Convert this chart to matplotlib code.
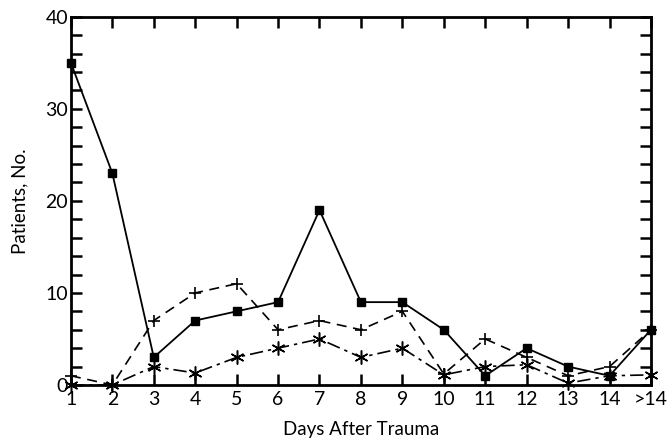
import matplotlib.pyplot as plt
from matplotlib.ticker import MultipleLocator

plt.rcParams['font.family'] = ['Lato', 'DejaVu Sans']

days = ["1", "2", "3", "4", "5", "6", "7", "8", "9", "10", "11", "12", "13", "14", ">14"]
x = list(range(1, len(days) + 1))

# three patient groups
squares = [35, 23, 3, 7, 8, 9, 19, 9, 9, 6, 1, 4, 2, 1, 6]
plus = [1, 0, 7, 10, 11, 6, 7, 6, 8, 1.2, 5, 3, 1, 2, 6]
stars = [0, 0, 2, 1.3, 3, 4, 5, 3, 4, 1.1, 2, 2.2, 0.2, 1, 1.1]

fig = plt.figure(figsize=(6.69, 4.42), dpi=100)
ax = fig.add_axes([0.106, 0.129, 0.867, 0.833])

ax.plot(x, squares, color="black", lw=1.3, ls="-", marker="s", ms=6,
        clip_on=False, zorder=3)
ax.plot(x, plus, color="black", lw=1.2, ls=(0, (6, 4)), marker="+", ms=9,
        mew=1.2, clip_on=False, zorder=3)
ax.plot(x, stars, color="black", lw=1.2, ls=(0, (8, 3, 2, 3)), marker=(6, 2, 0),
        ms=10, mew=1.1, clip_on=False, zorder=3)

ax.set_xlim(1, 15)
ax.set_ylim(0, 40)
ax.set_xticks(x)
ax.set_xticklabels(days)
ax.yaxis.set_major_locator(MultipleLocator(10))
ax.yaxis.set_minor_locator(MultipleLocator(2))

for s in ax.spines.values():
    s.set_linewidth(2)

ax.tick_params(axis="both", which="both", direction="in", top=True, right=True,
               width=1.8, labelsize=14)
ax.tick_params(axis="both", which="major", length=8)
ax.tick_params(axis="y", which="minor", length=8)
ax.tick_params(axis="x", pad=4)
ax.tick_params(axis="y", pad=2)

ax.set_xlabel("Days After Trauma", fontsize=13.5, labelpad=10)
ax.set_ylabel("Patients, No.", fontsize=13.5, labelpad=12)

fig.savefig("out.png", dpi=100)
